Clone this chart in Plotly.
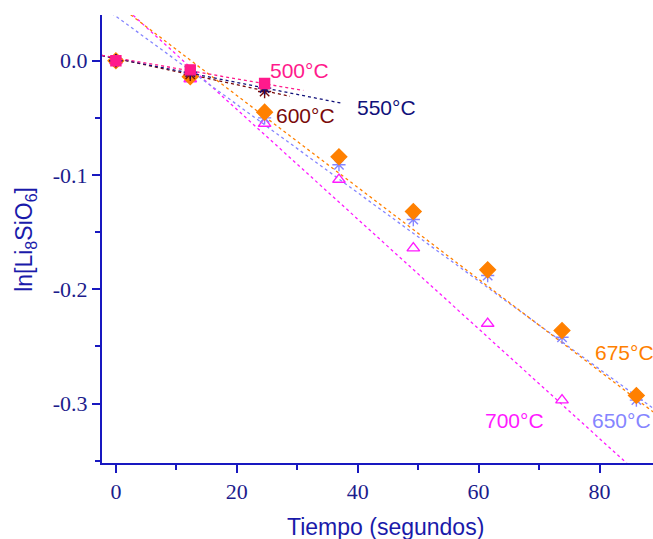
import numpy as np
import plotly.graph_objects as go

# Tiempo de reacción (s)
tiempo = [0, 12.3, 24.6, 36.9, 49.2, 61.5, 73.8, 86.1]

# ln[Li8SiO6] a cada temperatura
ln_500 = [0, -0.008, -0.020]
ln_550 = [0, -0.010, -0.024]
ln_600 = [0, -0.012, -0.027]
ln_650 = [0, -0.011, -0.050, -0.091, -0.139, -0.188, -0.242, -0.297]
ln_675 = [0, -0.014, -0.045, -0.084, -0.132, -0.183, -0.236, -0.293]
ln_700 = [0, -0.016, -0.055, -0.104, -0.164, -0.230, -0.297]

# Ajustes lineales: ordenada, pendiente y último tiempo del ajuste
ordenada = {"500": 0.0025, "550": 0.002, "600": 0.002, "650": 0.0389, "675": 0.050, "700": 0.0534}
pendiente = {"500": -0.00092, "550": -0.00105, "600": -0.00115, "650": -0.00386, "675": -0.00402, "700": -0.00480}
t_fin = {"500": 31.0, "550": 37.6, "600": 28.8, "650": 95, "675": 95, "700": 95}

# Orden de dibujo: la serie de 500 °C queda encima
series = [
    ("700", ln_700, "#FF1AFF", dict(symbol="triangle-up-open", size=11)),
    ("650", ln_650, "#8585FF", dict(symbol="asterisk-open", size=11)),
    ("675", ln_675, "#FF8000", dict(symbol="diamond", size=12)),
    ("600", ln_600, "#7A0A0A", dict(symbol="asterisk-open", size=11)),
    ("550", ln_550, "#10107A", dict(symbol="asterisk-open", size=11)),
    ("500", ln_500, "#FF1A8C", dict(symbol="square", size=10)),
]

etiquetas = [
    ("500°C", 30.4, -0.0087, "#FF1A8C", "center"),
    ("550°C", 44.7, -0.041, "#10107A", "center"),
    ("600°C", 31.4, -0.048, "#7A0A0A", "center"),
    ("675°C", 79.0, -0.2555, "#FF8000", "left"),
    ("700°C", 66.0, -0.315, "#FF1AFF", "center"),
    ("650°C", 78.4, -0.315, "#8585FF", "left"),
]

fig = go.Figure()

x0 = -2.3
for key, vals, color, mk in series:
    tf = t_fin[key]
    xs = np.array([x0, tf])
    ys = ordenada[key] + pendiente[key] * xs
    fig.add_trace(go.Scatter(
        x=xs, y=ys, mode="lines",
        line=dict(color=color, width=1.3, dash="3px,3px"),
        showlegend=False, hoverinfo="skip",
    ))

for key, vals, color, mk in series:
    marker = dict(color=color, line=dict(color=color, width=1.4), **mk)
    fig.add_trace(go.Scatter(
        x=tiempo[:len(vals)], y=vals, mode="markers",
        marker=marker, showlegend=False,
    ))

for txt, xv, yv, color, anchor in etiquetas:
    fig.add_annotation(
        x=xv, y=yv, text=txt, showarrow=False, xanchor=anchor,
        font=dict(family="Liberation Sans, Arial, sans-serif", size=21, color=color),
    )

axis_color = "#1818C0"
tick_font = dict(family="Liberation Serif, Times New Roman, serif", size=22, color="#1C1C8C")

fig.update_xaxes(
    range=[-2.3, 88.85], showgrid=False, zeroline=False,
    showline=True, linecolor=axis_color, linewidth=2,
    ticks="outside", tickcolor=axis_color, ticklen=8, tickwidth=1.5,
    tickvals=[0, 20, 40, 60, 80], tickfont=tick_font,
    minor=dict(tickvals=[10, 30, 50, 70], ticks="outside", ticklen=5, tickcolor=axis_color, tickwidth=1.5),
)
fig.update_yaxes(
    range=[-0.352, 0.040], showgrid=False, zeroline=False,
    showline=True, linecolor=axis_color, linewidth=2,
    ticks="outside", tickcolor=axis_color, ticklen=8, tickwidth=1.5,
    tickvals=[0.0, -0.1, -0.2, -0.3], ticktext=["0.0", "-0.1", "-0.2", "-0.3"], tickfont=tick_font,
    minor=dict(tickvals=[-0.05, -0.15, -0.25, -0.35], ticks="outside", ticklen=5, tickcolor=axis_color, tickwidth=1.5),
)

title_font = dict(family="Liberation Sans, Arial, sans-serif", size=23, color="#1A1AAA")
fig.add_annotation(
    xref="paper", yref="paper", x=-0.14, y=0.5, xanchor="center", yanchor="middle",
    text="ln[Li<sub>8</sub>SiO<sub>6</sub>]", textangle=-90, showarrow=False, font=title_font,
)
fig.add_annotation(
    xref="paper", yref="paper", x=0.514, y=-0.143, xanchor="center", yanchor="middle",
    text="Tiempo (segundos)", showarrow=False, font=title_font,
)

fig.update_layout(
    width=653, height=539,
    margin=dict(l=102, r=0, t=15, b=76),
    plot_bgcolor="white", paper_bgcolor="white",
)

fig.write_html("out.html")
